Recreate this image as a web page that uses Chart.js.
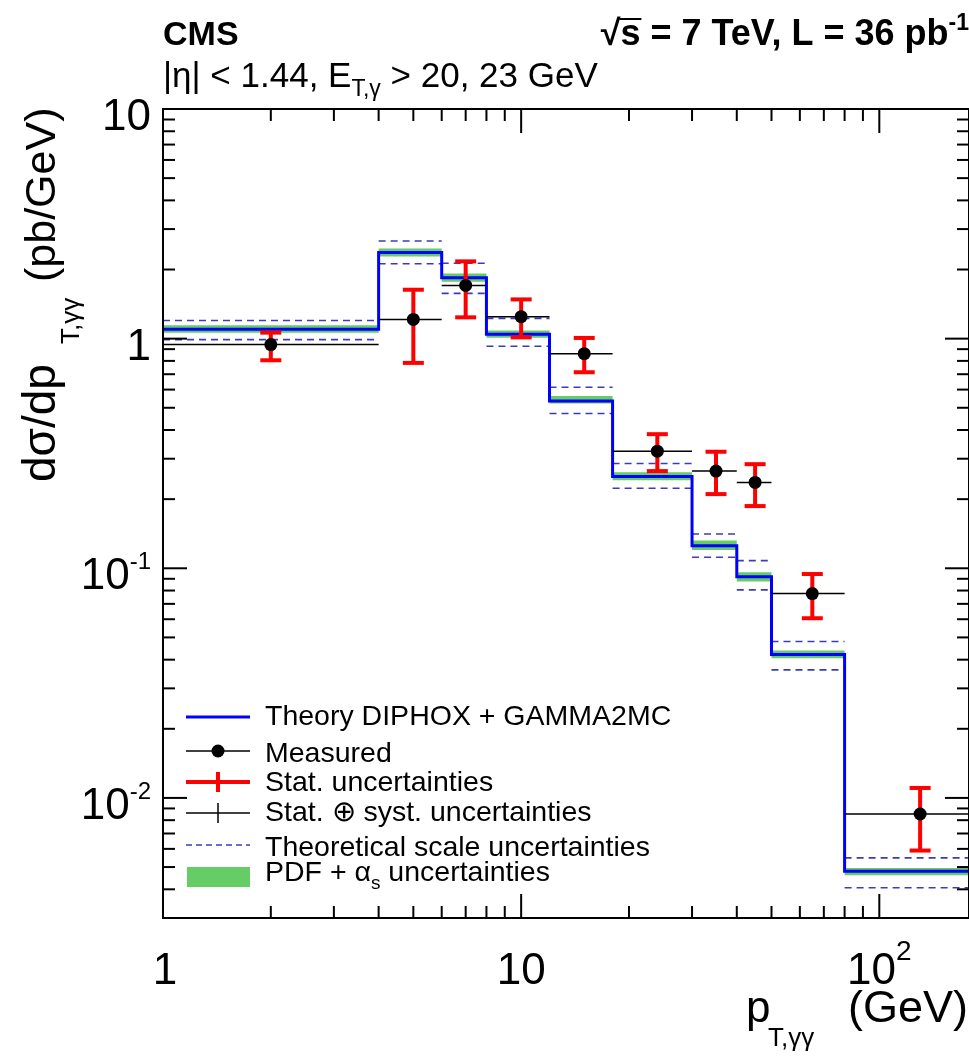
<!DOCTYPE html>
<html>
<head>
<meta charset="utf-8">
<script src="https://cdn.jsdelivr.net/npm/chart.js@4.4.1/dist/chart.umd.min.js"></script>
<style>
  html, body { margin: 0; padding: 0; background: #fff; overflow: hidden; }
</style>
</head>
<body>
<canvas id="diphoton" width="969" height="1058"></canvas>
<script>
const binEdges  = [1, 4, 6, 8, 12, 18, 30, 40, 50, 80, 200];
const theory    = [1.10, 2.37, 1.84, 1.045, 0.535, 0.251, 0.1255, 0.0918, 0.0421, 0.00480];
const scaleUp   = [1.20, 2.66, 2.13, 1.225, 0.614, 0.286, 0.141, 0.108, 0.0480, 0.00548];
const scaleDown = [0.99, 2.12, 1.574, 0.926, 0.472, 0.223, 0.1117, 0.0805, 0.0361, 0.00406];
const pdfUp     = [1.145, 2.47, 1.92, 1.085, 0.562, 0.262, 0.132, 0.0960, 0.0438, 0.00495];
const pdfDown   = [1.06, 2.28, 1.77, 1.01, 0.522, 0.242, 0.120, 0.0875, 0.0406, 0.00460];

const ptCenter  = [2, 5, 7, 10, 15, 24, 35, 45, 65, 130];
const ptLow     = [1, 4, 6, 8, 12, 18, 30, 40, 50, 80];
const ptHigh    = [4, 6, 8, 12, 18, 30, 40, 50, 80, 200];
const measured  = [0.942, 1.213, 1.705, 1.246, 0.86, 0.3236, 0.265, 0.2366, 0.0776, 0.00851];
const statHigh  = [1.062, 1.633, 2.17, 1.482, 1.007, 0.3837, 0.3217, 0.284, 0.0944, 0.01105];
const statLow   = [0.805, 0.784, 1.238, 1.013, 0.714, 0.265, 0.2104, 0.1866, 0.0606, 0.0059];

const xTicks = [1, 10, 100];
const yTicks = [10, 1, 0.1, 0.01];

const FONT = '"Liberation Sans", Arial, Helvetica, sans-serif';
const BLUE = '#0000ff', RED = '#ff0000', GREEN = '#66cc66', DASH = '#3c3cb4';

// histogram helpers
const stepData = vals => vals.map((v, i) => ({ x: binEdges[i], y: v }))
  .concat([{ x: binEdges[binEdges.length - 1], y: vals[vals.length - 1] }]);
const segData = vals => vals.flatMap((v, i) => [
  { x: binEdges[i], y: v }, { x: binEdges[i + 1], y: v }, { x: binEdges[i + 1], y: null }
]);

// text with sub/superscripts: parts = [text, size, dy, bold]
function rich(ctx, parts, x, y, align) {
  const f = p => (p[3] ? 'bold ' : '') + p[1] + 'px ' + FONT;
  let w = 0;
  parts.forEach(p => { ctx.font = f(p); w += ctx.measureText(p[0]).width; });
  let cx = align === 'right' ? x - w : align === 'center' ? x - w / 2 : x;
  parts.forEach(p => {
    ctx.font = f(p);
    ctx.fillText(p[0], cx, y + (p[2] || 0));
    cx += ctx.measureText(p[0]).width;
  });
  return w;
}

function seg(ctx, x1, y1, x2, y2, color, lw, dash) {
  ctx.save();
  ctx.strokeStyle = color; ctx.lineWidth = lw;
  ctx.setLineDash(dash || []);
  ctx.beginPath(); ctx.moveTo(x1, y1); ctx.lineTo(x2, y2); ctx.stroke();
  ctx.restore();
}

// === Frame, ticks, labels, header and legend ===
const decorations = {
  id: 'decorations',
  afterDraw(chart) {
    const ctx = chart.ctx, a = chart.chartArea;
    const xs = chart.scales.x, ys = chart.scales.y;
    ctx.save();
    ctx.fillStyle = '#000';
    ctx.textAlign = 'left';
    ctx.textBaseline = 'alphabetic';

    // frame
    ctx.strokeStyle = '#000'; ctx.lineWidth = 2;
    ctx.strokeRect(a.left, a.top, a.right - a.left, a.bottom - a.top);

    // x ticks (bottom + top)
    [1, 10, 100].forEach(d => {
      for (let k = 1; k <= 9; k++) {
        const v = k * d;
        if (v <= xs.min || v >= xs.max) continue;
        const px = xs.getPixelForValue(v), len = k === 1 ? 24 : 12;
        seg(ctx, px, a.bottom, px, a.bottom - len, '#000', 2);
        seg(ctx, px, a.top, px, a.top + len, '#000', 2);
      }
    });
    // y ticks (left + right)
    [0.001, 0.01, 0.1, 1, 10].forEach(d => {
      for (let k = 1; k <= 9; k++) {
        const v = k * d;
        if (v <= ys.min * 1.0001 || v >= ys.max * 0.9999) continue;
        const py = ys.getPixelForValue(v), len = k === 1 ? 24 : 12;
        seg(ctx, a.left, py, a.left + len, py, '#000', 2);
        seg(ctx, a.right, py, a.right - len, py, '#000', 2);
      }
    });

    // y tick labels
    yTicks.forEach(v => {
      const py = ys.getPixelForValue(v) + 21;
      const e = Math.round(Math.log10(v));
      if (e === 0) rich(ctx, [['1', 44]], 151, py, 'right');
      else if (e === 1) rich(ctx, [['10', 44]], 151, py, 'right');
      else rich(ctx, [['10', 44], [String(e), 24, -20]], 151, py, 'right');
    });
    // x tick labels
    xTicks.forEach(v => {
      const px = xs.getPixelForValue(v);
      const e = Math.round(Math.log10(v));
      if (e === 0) rich(ctx, [['1', 44]], px + 2, 984, 'center');
      else if (e === 1) rich(ctx, [['10', 44]], px, 984, 'center');
      else rich(ctx, [['10', 44], [String(e), 28, -24]], px, 984, 'center');
    });

    // x axis title
    rich(ctx, [['(GeV)', 45]], 968, 1022, 'right');
    rich(ctx, [['p', 44]], 746, 1022, 'left');
    rich(ctx, [['T,\u03b3\u03b3', 26]], 768, 1046, 'left');

    // y axis title (rotated)
    ctx.save();
    ctx.translate(55, 490);
    ctx.rotate(-Math.PI / 2);
    rich(ctx, [['d\u03c3/dp', 46]], 8, 0, 'left');
    rich(ctx, [['T,\u03b3\u03b3', 26]], 146, 24, 'left');
    rich(ctx, [['(pb/GeV)', 43]], 208, 0, 'left');
    ctx.restore();

    // header
    rich(ctx, [['CMS', 34, 0, true]], 163, 45, 'left');
    const w = rich(ctx, [['\u221as = 7 TeV, L = 36 pb', 36, 0, true], ['-1', 23, -15, true]], 969, 45, 'right');
    ctx.font = 'bold 36px ' + FONT;
    const x0 = 969 - w;
    const wr = ctx.measureText('\u221a').width, ws = ctx.measureText('s').width;
    seg(ctx, x0 + wr - 1, 19, x0 + wr + ws + 1, 19, '#000', 2);
    rich(ctx, [['|\u03b7| < 1.44, E', 35], ['T,\u03b3', 23, 9], [' > 20, 23 GeV', 35]], 163, 87, 'left');

    // legend
    const l0 = 186, l1 = 250, lm = 218, tx = 265, fs = 28.5;
    seg(ctx, l0, 717, l1, 717, BLUE, 3);
    rich(ctx, [['Theory DIPHOX + GAMMA2MC', fs]], tx, 725, 'left');
    seg(ctx, l0, 751, l1, 751, '#000', 1.5);
    ctx.beginPath(); ctx.arc(lm, 751, 6.5, 0, Math.PI * 2); ctx.fill();
    rich(ctx, [['Measured', fs]], tx, 762, 'left');
    seg(ctx, l0, 782, l1, 782, RED, 4);
    seg(ctx, lm, 772, lm, 792, RED, 4);
    rich(ctx, [['Stat. uncertainties', fs]], tx, 791, 'left');
    seg(ctx, l0, 813, l1, 813, '#000', 1.5);
    seg(ctx, lm, 803, lm, 823, '#000', 1.5);
    rich(ctx, [['Stat. \u2295 syst. uncertainties', fs]], tx, 821, 'left');
    seg(ctx, l0, 845, l1, 845, DASH, 1.6, [6, 4]);
    rich(ctx, [['Theoretical scale uncertainties', fs]], tx, 856, 'left');
    ctx.fillStyle = GREEN;
    ctx.fillRect(187, 867, 63, 20);
    ctx.fillStyle = '#000';
    rich(ctx, [['PDF + \u03b1', fs], ['s', 19, 8], [' uncertainties', fs]], tx, 881, 'left');

    ctx.restore();
  }
};

// === Chart ===
const ctx = document.getElementById('diphoton').getContext('2d');
const diphotonChart = new Chart(ctx, {
  type: 'line',
  data: {
    datasets: [
      {
        label: 'Measured',
        data: ptCenter.map((x, i) => ({ x: x, y: measured[i] })),
        showLine: false,
        pointRadius: 6.5,
        pointBackgroundColor: '#000',
        pointBorderColor: '#000',
        pointBorderWidth: 0,
        order: 0
      },
      {
        label: 'Stat. uncertainties',
        data: ptCenter.flatMap((x, i) => [{ x: x, y: statLow[i] }, { x: x, y: statHigh[i] }, { x: x, y: null }]),
        borderColor: RED,
        borderWidth: 4,
        pointStyle: 'line',
        pointRadius: 10.5,
        pointBorderWidth: 4,
        pointBorderColor: RED,
        order: 1
      },
      {
        label: 'x range',
        data: ptCenter.flatMap((x, i) => [{ x: ptLow[i], y: measured[i] }, { x: ptHigh[i], y: measured[i] }, { x: ptHigh[i], y: null }]),
        borderColor: '#000',
        borderWidth: 1.5,
        pointRadius: 0,
        order: 2
      },
      {
        label: 'Theory DIPHOX + GAMMA2MC',
        data: stepData(theory),
        stepped: 'before',
        borderColor: BLUE,
        borderWidth: 3,
        pointRadius: 0,
        order: 3
      },
      {
        label: 'Scale up',
        data: segData(scaleUp),
        borderColor: DASH,
        borderWidth: 1.6,
        borderDash: [7, 5],
        pointRadius: 0,
        order: 4
      },
      {
        label: 'Scale down',
        data: segData(scaleDown),
        borderColor: DASH,
        borderWidth: 1.6,
        borderDash: [7, 5],
        pointRadius: 0,
        order: 4
      },
      {
        label: 'PDF up',
        data: stepData(pdfUp),
        stepped: 'before',
        borderWidth: 0,
        borderColor: 'rgba(0,0,0,0)',
        backgroundColor: GREEN,
        fill: '+1',
        pointRadius: 0,
        order: 5
      },
      {
        label: 'PDF down',
        data: stepData(pdfDown),
        stepped: 'before',
        borderWidth: 0,
        borderColor: 'rgba(0,0,0,0)',
        fill: false,
        pointRadius: 0,
        order: 6
      }
    ]
  },
  options: {
    responsive: false,
    animation: false,
    events: [],
    devicePixelRatio: 1,
    layout: { autoPadding: false, padding: { left: 163, top: 109, right: 0, bottom: 140 } },
    plugins: { legend: { display: false }, tooltip: { enabled: false } },
    scales: {
      x: { type: 'logarithmic', min: 1, max: 178, display: false },
      y: { type: 'logarithmic', min: 0.003, max: 10, display: false }
    }
  },
  plugins: [decorations]
});
</script>
</body>
</html>
